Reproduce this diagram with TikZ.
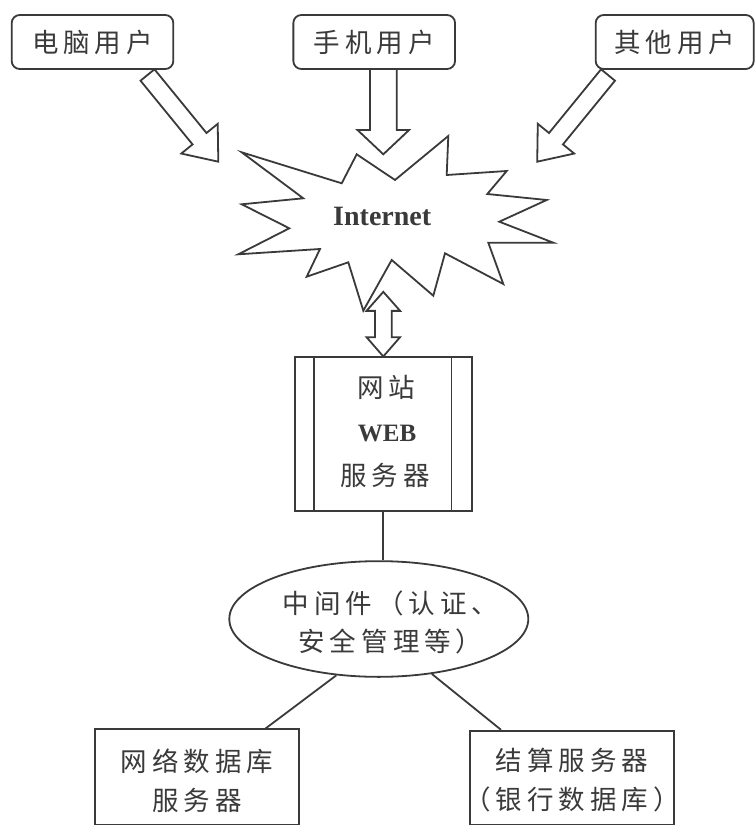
\documentclass[tikz,border=0pt]{standalone}
\usepackage{fontspec}
\setmainfont{Liberation Serif}
\newfontfamily\cjk{Noto Sans CJK SC}
\usetikzlibrary{calc,shapes.geometric}
\definecolor{ink}{HTML}{3A3A3A}
\newcommand\cg{\hspace{5pt}}
\newcommand\blockarrow[5]{%
  \coordinate (#1-b) at ($(#2)!#5!(#1)$);
  \draw[blk] ($(#1)!#3!90:(#2)$) -- ($(#1-b)!#3!90:(#2)$) -- ($(#1-b)!#4!90:(#2)$) -- (#2)
     -- ($(#1-b)!#4!-90:(#2)$) -- ($(#1-b)!#3!-90:(#2)$) -- ($(#1)!#3!-90:(#2)$) -- cycle;}
\tikzset{
  line/.style={draw=ink, line width=1.8pt},
  blk/.style={draw=ink, line width=1.8pt, fill=white, line join=miter},
  ctext/.style={text=ink, font=\cjk\fontsize{26.5}{38.4}\selectfont, inner sep=0pt, align=center},
  ltext/.style={text=ink, font=\bfseries\fontsize{27}{32}\selectfont, inner sep=0pt},
  userbox/.style={line, rounded corners=8pt, minimum height=54pt, inner sep=0pt, ctext},
  plainbox/.style={line, inner sep=0pt},
}
\begin{document}
\begin{tikzpicture}[x=1pt,y=-1pt]
\useasboundingbox[fill=white] (0,0) rectangle (755,826);

% user boxes
\node[userbox, minimum width=161.6pt] (pc) at (92.5,42) {电\cg 脑\cg 用\cg 户};
\node[userbox, minimum width=161.7pt] (phone) at (374.2,42) {手\cg 机\cg 用\cg 户};
\node[userbox, minimum width=158pt] (other) at (674.7,42) {其\cg 他\cg 用\cg 户};

% Internet starburst
\draw[blk] (241.7,152.3) -- (341.7,183.3) -- (356.7,154.3) -- (395,180) -- (448.3,136)
  -- (446.7,175) -- (506.7,171) -- (487.3,194) -- (546.7,200) -- (499.3,221.7)
  -- (553.3,242.7) -- (488.3,242.7) -- (503.3,284) -- (445,253.3) -- (433.3,295.7)
  -- (391.7,260) -- (363.3,310.7) -- (348.3,262.3) -- (306.7,276.7) -- (320,249)
  -- (238.3,254.3) -- (289.3,228.3) -- (241.7,204.3) -- (303.3,198.3) -- cycle;
\node[ltext, font=\bfseries\fontsize{28}{32}\selectfont] (inet) at (382.2,216.5) {Internet};

% block arrows from users to Internet
\coordinate (pcT) at (147.5,75);   \coordinate (pcP) at (218.3,161.7);
\coordinate (phT) at (383.3,69);   \coordinate (phP) at (383.3,154.3);
\coordinate (otT) at (608,75);     \coordinate (otP) at (537.2,161.7);
\blockarrow{pcT}{pcP}{9pt}{23.5pt}{29.7pt}
\blockarrow{phT}{phP}{13.35pt}{25.8pt}{24.3pt}
\blockarrow{otT}{otP}{9pt}{23.5pt}{29.7pt}

% web server box
\node[plainbox, minimum width=176.7pt, minimum height=153.7pt] (web) at (383.3,434.2) {};
\draw[line] ($(web.north west)+(20,0)$) -- ($(web.south west)+(20,0)$);
\draw[line] ($(web.north east)+(-21,0)$) -- ($(web.south east)+(-21,0)$);
\node[ctext] (w1) at (386.5,387) {网\cg 站};
\node[ltext, font=\bfseries\fontsize{25}{30}\selectfont] (w2) at (387,433.3) {WEB};
\node[ctext] (w3) at (385,475.5) {服\cg 务\cg 器};

% double arrow Internet <-> web
\coordinate (dB) at (web.north);
\coordinate (dT) at ($(web.north)+(0,-64.6)$);
\draw[blk] (dT) -- ($(dT)+(16.8,19)$) -- ($(dT)+(8.35,19)$) -- ($(dB)+(8.35,-19.3)$)
  -- ($(dB)+(16.8,-19.3)$) -- (dB) -- ($(dB)+(-16.8,-19.3)$) -- ($(dB)+(-8.35,-19.3)$)
  -- ($(dT)+(-8.35,19)$) -- ($(dT)+(-16.8,19)$) -- cycle;

% middleware ellipse
\node[ellipse, line, minimum width=299pt, minimum height=115.7pt, inner sep=0pt] (mw) at (378.8,619) {};
\node[ctext] (mwt) at (390.5,622.5) {中\cg 间\cg 件\cg （\cg 认\cg 证\cg 、\\安\cg 全\cg 管\cg 理\cg 等\cg ）};
\draw[line] (web.south) -- (web.south |- mw.north);

% bottom boxes
\node[plainbox, minimum width=204.3pt, minimum height=95.2pt] (db) at (197.2,776.9) {};
\node[ctext] (dbt) at (197,780.9) {网\cg 络\cg 数\cg 据\cg 库\\服\cg 务\cg 器};
\node[plainbox, minimum width=204pt, minimum height=93.8pt] (bank) at (572,777.6) {};
\node[ctext] (bankt) at (572,780) {结\cg 算\cg 服\cg 务\cg 器\\（\cg 银\cg 行\cg 数\cg 据\cg 库\cg ）};
\draw[line] (mw.233) -- ($(db.north west)!0.832!(db.north east)$);
\draw[line] (mw.314) -- ($(bank.north west)!0.155!(bank.north east)$);
\end{tikzpicture}
\end{document}
